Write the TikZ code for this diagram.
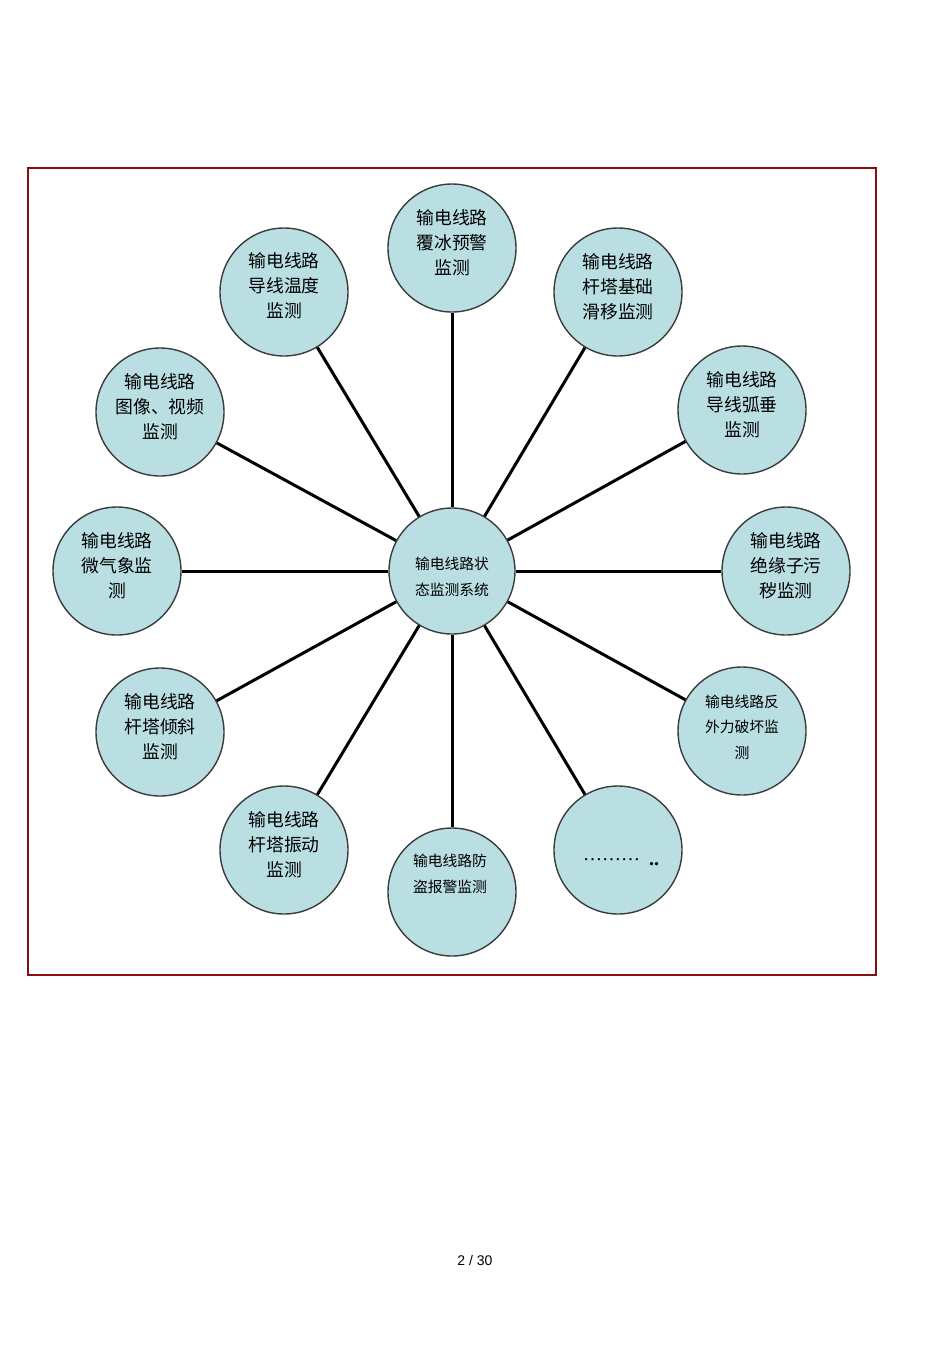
\documentclass[tikz,border=0pt]{standalone}
\usepackage{fontspec}
\newfontfamily\cjk{Noto Sans CJK SC}
\newfontfamily\pgnum{Liberation Sans}
\newfontfamily\dotfont{Liberation Serif}
\definecolor{framered}{RGB}{135,15,15}
\definecolor{circfill}{RGB}{186,223,227}
\definecolor{circborder}{RGB}{60,60,60}
\begin{document}
\begin{tikzpicture}[x=1pt,y=-1pt,
  mon/.style={circle, draw=circborder, line width=1.4pt, fill=circfill,
    minimum size=128pt, inner sep=0pt},
  montext/.style={align=center, inner sep=0pt,
    font=\cjk\fontsize{17.8}{25}\selectfont},
  montextsmall/.style={montext, font=\cjk\fontsize{14.8}{25.5}\selectfont},
  link/.style={line width=3pt, black}]
\useasboundingbox (0,0) rectangle (950,1345);
\draw[framered, line width=2pt] (28,168) rectangle (876,975);

\node[mon, minimum size=126pt] (c) at (452,571) {};
\node[montextsmall, yshift=-6pt] (ct) at (c) {输电线路状\\态监测系统};

\node[mon] (n1) at (452,248) {};
\node[montext, yshift=5pt] (t1) at (n1) {输电线路\\覆冰预警\\监测};
\node[mon] (n2) at (618,292) {};
\node[montext, yshift=5pt] (t2) at (n2) {输电线路\\杆塔基础\\滑移监测};
\node[mon] (n3) at (742,410) {};
\node[montext, yshift=5pt] (t3) at (n3) {输电线路\\导线弧垂\\监测};
\node[mon] (n4) at (786,571) {};
\node[montext, yshift=5pt] (t4) at (n4) {输电线路\\绝缘子污\\秽监测};
\node[mon] (n5) at (742,731) {};
\node[montextsmall, yshift=4pt] (t5) at (n5) {输电线路反\\外力破坏监\\测};
\node[mon] (n6) at (618,850) {};
\node[inner sep=0pt] (t6) at (621,862) {\raisebox{5pt}{\dotfont\fontsize{19}{20}\selectfont ………}\hspace{9pt}{\dotfont\fontsize{20}{20}\selectfont\bfseries ..}};
\node[mon] (n7) at (452,892) {};
\node[montextsmall] (t7) at (450,874) {输电线路防\\盗报警监测};
\node[mon] (n8) at (284,850) {};
\node[montext, yshift=5pt] (t8) at (n8) {输电线路\\杆塔振动\\监测};
\node[mon] (n9) at (160,732) {};
\node[montext, yshift=5pt] (t9) at (n9) {输电线路\\杆塔倾斜\\监测};
\node[mon] (n10) at (117,571) {};
\node[montext, yshift=5pt] (t10) at (n10) {输电线路\\微气象监\\测};
\node[mon] (n11) at (160,412) {};
\node[montext, yshift=5pt] (t11) at (n11) {输电线路\\图像、视频\\监测};
\node[mon] (n12) at (284,292) {};
\node[montext, yshift=6pt] (t12) at (n12) {输电线路\\导线温度\\监测};

\foreach \n in {n1,n2,n3,n4,n5,n6,n7,n8,n9,n10,n11,n12}
  \draw[link] (c) -- (\n);

\node[font=\pgnum\fontsize{14}{16}\selectfont] (pg) at (475,1260) {2 / 30};
\end{tikzpicture}
\end{document}
